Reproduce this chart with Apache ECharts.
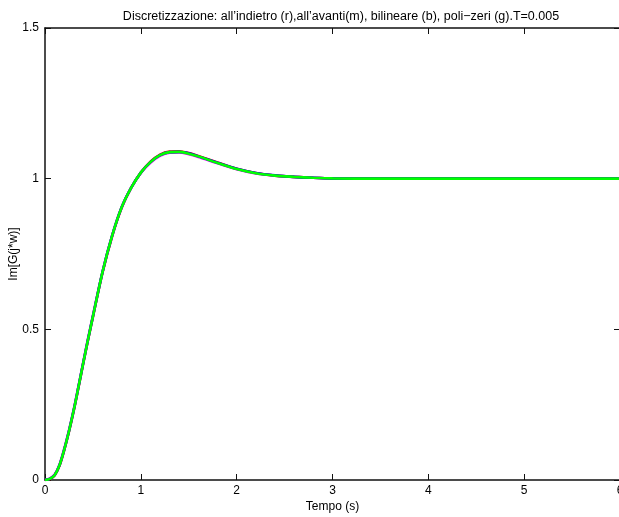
<!DOCTYPE html>
<html>
<head>
<meta charset="utf-8">
<script src="https://cdn.jsdelivr.net/npm/echarts@6/dist/echarts.min.js"></script>
<style>
  html, body { margin: 0; padding: 0; background: #fff; }
  #chart { width: 619px; height: 517px; }
</style>
</head>
<body>
<div id="chart"></div>
<script>
// tempi di campionamento (s)
const tempo = [0, 0.05, 0.1, 0.15, 0.2, 0.25, 0.3, 0.35, 0.4, 0.45, 0.5, 0.6, 0.7, 0.8, 0.9, 1.0, 1.1, 1.2, 1.3, 1.4, 1.5, 1.6, 1.8, 2.0, 2.2, 2.4, 2.6, 2.8, 3.0, 3.5, 4.0, 5.0, 6.0]
// risposte al gradino: indietro (r), avanti (m), bilineare (b), poli-zeri (g)
const indietro = [0, 0.003, 0.015, 0.046, 0.098, 0.160, 0.230, 0.308, 0.388, 0.466, 0.541, 0.688, 0.808, 0.903, 0.970, 1.020, 1.056, 1.080, 1.090, 1.091, 1.085, 1.075, 1.054, 1.033, 1.019, 1.010, 1.006, 1.003, 1.001, 1.000, 1.000, 1.000, 1.000]
const avanti = [0, 0.005, 0.018, 0.050, 0.103, 0.165, 0.235, 0.313, 0.393, 0.471, 0.546, 0.691, 0.811, 0.906, 0.971, 1.019, 1.053, 1.076, 1.086, 1.087, 1.081, 1.072, 1.051, 1.031, 1.017, 1.010, 1.006, 1.003, 1.001, 1.000, 1.000, 1.000, 1.000]
const bilineare = [0, 0.004, 0.016, 0.048, 0.100, 0.162, 0.232, 0.310, 0.390, 0.468, 0.543, 0.690, 0.810, 0.905, 0.970, 1.020, 1.055, 1.078, 1.088, 1.089, 1.084, 1.074, 1.053, 1.033, 1.019, 1.011, 1.006, 1.003, 1.001, 1.000, 1.000, 1.000, 1.000]
const poliZeri = [0, 0.004, 0.016, 0.048, 0.100, 0.162, 0.232, 0.310, 0.390, 0.468, 0.543, 0.690, 0.810, 0.905, 0.970, 1.020, 1.055, 1.078, 1.088, 1.089, 1.083, 1.074, 1.052, 1.032, 1.018, 1.010, 1.006, 1.003, 1.001, 1.000, 1.000, 1.000, 1.000]
const xTicks = [0, 1, 2, 3, 4, 5, 6]
const yTicks = [0, 0.5, 1, 1.5]

const chartInstance = echarts.init(document.getElementById('chart'), null, { renderer: 'canvas' })

const font = 'Liberation Sans, Arial, Helvetica, sans-serif'
const axisLine = { show: true, onZero: false, lineStyle: { color: '#111', width: 1.5 } }
const axisTick = { show: true, inside: true, length: 6, lineStyle: { color: '#111', width: 1 } }

function serie (nome, valori, colore) {
  return {
    name: nome,
    type: 'line',
    data: tempo.map((t, i) => [t, valori[i]]),
    showSymbol: false,
    smooth: 0.3,
    lineStyle: { color: colore, width: 2.6 },
    itemStyle: { color: colore },
    animation: false
  }
}

const option = {
  backgroundColor: '#fff',
  animation: false,
  title: {
    text: "Discretizzazione: all’indietro (r),all’avanti(m), bilineare (b), poli−zeri (g).T=0.005",
    left: 336,
    textAlign: 'center',
    top: 5,
    textStyle: { fontFamily: font, fontSize: 12.5, fontWeight: 'normal', color: '#000' }
  },
  grid: { left: 45, top: 28, width: 575, height: 452, containLabel: false, outerBoundsMode: 'none' },
  xAxis: [
    {
      type: 'value',
      min: 0,
      max: 6,
      interval: 1,
      position: 'bottom',
      name: 'Tempo (s)',
      nameLocation: 'middle',
      nameGap: 21,
      nameMoveOverlap: false,
      nameTextStyle: { fontFamily: font, fontSize: 12, color: '#000' },
      axisLine: axisLine,
      axisTick: axisTick,
      splitLine: { show: false },
      axisLabel: {
        fontFamily: font, fontSize: 12, color: '#000', margin: 5,
        formatter: v => xTicks.includes(v) ? String(v) : ''
      }
    },
    {
      type: 'value',
      min: 0,
      max: 6,
      interval: 1,
      position: 'top',
      axisLine: axisLine,
      axisTick: axisTick,
      splitLine: { show: false },
      axisLabel: { show: false }
    }
  ],
  yAxis: [
    {
      type: 'value',
      min: 0,
      max: 1.5,
      interval: 0.5,
      position: 'left',
      name: 'Im[G(j*w)]',
      nameLocation: 'middle',
      nameGap: 25,
      nameMoveOverlap: false,
      nameRotate: 90,
      nameTextStyle: { fontFamily: font, fontSize: 12, color: '#000' },
      axisLine: axisLine,
      axisTick: axisTick,
      splitLine: { show: false },
      axisLabel: {
        fontFamily: font, fontSize: 12, color: '#000', margin: 6,
        formatter: v => yTicks.includes(v) ? String(v) : ''
      }
    },
    {
      type: 'value',
      min: 0,
      max: 1.5,
      interval: 0.5,
      position: 'right',
      axisLine: axisLine,
      axisTick: axisTick,
      splitLine: { show: false },
      axisLabel: { show: false }
    }
  ],
  series: [
    serie('indietro', indietro, '#ff0000'),
    serie('avanti', avanti, '#ff00ff'),
    serie('bilineare', bilineare, '#0000ff'),
    serie('poli-zeri', poliZeri, '#00ff00')
  ]
}

chartInstance.setOption(option)
</script>
</body>
</html>
